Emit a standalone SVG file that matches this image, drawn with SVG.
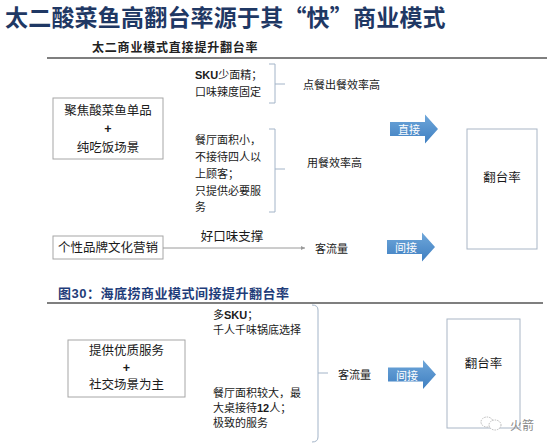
<svg xmlns="http://www.w3.org/2000/svg" xmlns:xlink="http://www.w3.org/1999/xlink" width="554" height="448" viewBox="0 0 554 448">
  <style>
    .cjk { font-family: "Liberation Serif", "Noto Sans CJK SC", serif; fill: #1a1a1a; }
    .title { font-family: "Noto Sans CJK SC", sans-serif; font-weight: bold; fill: #1f3864; font-size: 23px; letter-spacing: 0.2px; }
    .sub { font-family: "Noto Sans CJK SC", sans-serif; font-weight: bold; fill: #222; font-size: 12px; letter-spacing: 0.8px; }
    .fig { font-family: "Liberation Sans", "Noto Sans CJK SC", sans-serif; font-weight: bold; fill: #1f3d7a; font-size: 13px; letter-spacing: 0.5px; }
    .box { fill: #ffffff; stroke: #a6a6a6; stroke-width: 1; }
    .tall { fill: #ffffff; stroke: #a9b6c6; stroke-width: 1; }
    .t12 { font-size: 12.5px; }
    .t11 { font-size: 11px; }
    .lat { font-family: "Liberation Sans", sans-serif; font-weight: bold; }
    .brace { fill: none; stroke: #a3b4c8; stroke-width: 1; }
    .rule { stroke: #555; stroke-width: 1.5; }
    .conn { stroke: #9a9a9a; stroke-width: 1; fill: none; }
    .atext { font-family: "Noto Sans CJK SC", sans-serif; fill: #ffffff; font-size: 11px; }
    .wm { font-family: "Noto Sans CJK SC", sans-serif; fill: #8a8a8a; font-size: 12px; }
  </style>
  <defs>
    <linearGradient id="blueGrad" x1="0" y1="0" x2="0" y2="1">
      <stop offset="0" stop-color="#6fa7da"/>
      <stop offset="1" stop-color="#3f7fc1"/>
    </linearGradient>
    <path id="blockArrow" d="M0,-7 H35 V-14.5 L48,0 L35,14.5 V7 H0 Z" fill="url(#blueGrad)"/>
    <marker id="smallHead" markerWidth="5" markerHeight="5" refX="4" refY="2.5" orient="auto" markerUnits="userSpaceOnUse">
      <path d="M0,0.5 L4,2.5 L0,4.5 Z" fill="#9a9a9a"/>
    </marker>
  </defs>
  <rect width="554" height="448" fill="#ffffff"/>

  <!-- headings -->
  <text class="title" x="5" y="16" dominant-baseline="central">太二酸菜鱼高翻台率源于其“快”商业模式</text>
  <text class="sub" x="92" y="46" dominant-baseline="central">太二商业模式直接提升翻台率</text>
  <line class="rule" x1="47" y1="58" x2="547" y2="58"/>
  <text class="fig" x="58" y="293" dominant-baseline="central">图30：海底捞商业模式间接提升翻台率</text>
  <line class="rule" x1="47" y1="303" x2="543" y2="303"/>

  <!-- top section nodes -->
  <g id="node-taier-core">
    <rect class="box" x="53" y="98" width="110" height="61"/>
    <text class="cjk t12" x="108" y="111" text-anchor="middle" dominant-baseline="central">聚焦酸菜鱼单品</text>
    <text class="cjk t12 lat" x="108" y="129" text-anchor="middle" dominant-baseline="central">+</text>
    <text class="cjk t12" x="108" y="148" text-anchor="middle" dominant-baseline="central">纯吃饭场景</text>
  </g>
  <g id="node-sku">
    <text class="cjk t11" x="195" y="75" dominant-baseline="central"><tspan class="lat">SKU</tspan>少面精；</text>
    <text class="cjk t11" x="195" y="92" dominant-baseline="central">口味辣度固定</text>
  </g>
  <g id="node-space">
    <text class="cjk t11" x="195" y="140" dominant-baseline="central">餐厅面积小，</text>
    <text class="cjk t11" x="195" y="157" dominant-baseline="central">不接待四人以</text>
    <text class="cjk t11" x="195" y="174" dominant-baseline="central">上顾客；</text>
    <text class="cjk t11" x="195" y="191" dominant-baseline="central">只提供必要服</text>
    <text class="cjk t11" x="195" y="207" dominant-baseline="central">务</text>
  </g>
  <g id="node-order-eff">
    <text class="cjk t11" x="303" y="85" dominant-baseline="central">点餐出餐效率高</text>
  </g>
  <g id="node-dine-eff">
    <text class="cjk t11" x="307" y="163" dominant-baseline="central">用餐效率高</text>
  </g>
  <g id="node-brand">
    <rect class="box" x="53" y="236" width="110" height="23"/>
    <text class="cjk t12" x="108" y="247.5" text-anchor="middle" dominant-baseline="central">个性品牌文化营销</text>
  </g>
  <g id="node-traffic-top">
    <text class="cjk t11" x="315" y="249" dominant-baseline="central">客流量</text>
  </g>
  <g id="node-turnover-top">
    <rect class="tall" x="467" y="129" width="70" height="120"/>
    <text class="cjk t12" x="502" y="178" text-anchor="middle" dominant-baseline="central">翻台率</text>
  </g>

  <!-- bottom section nodes -->
  <g id="node-hdl-core">
    <rect class="box" x="68" y="340" width="117" height="57"/>
    <text class="cjk t12" x="126.5" y="351" text-anchor="middle" dominant-baseline="central">提供优质服务</text>
    <text class="cjk t12 lat" x="126.5" y="368" text-anchor="middle" dominant-baseline="central">+</text>
    <text class="cjk t12" x="126.5" y="385" text-anchor="middle" dominant-baseline="central">社交场景为主</text>
  </g>
  <g id="node-multi-sku">
    <text class="cjk t11" x="213" y="315" dominant-baseline="central">多<tspan class="lat">SKU</tspan>；</text>
    <text class="cjk t11" x="213" y="330" dominant-baseline="central">千人千味锅底选择</text>
  </g>
  <g id="node-big-space">
    <text class="cjk t11" x="213" y="393" dominant-baseline="central">餐厅面积较大，最</text>
    <text class="cjk t11" x="213" y="408" dominant-baseline="central">大桌接待<tspan class="lat">12</tspan>人；</text>
    <text class="cjk t11" x="213" y="423" dominant-baseline="central">极致的服务</text>
  </g>
  <g id="node-traffic-bottom">
    <text class="cjk t11" x="338" y="375" dominant-baseline="central">客流量</text>
  </g>
  <g id="node-turnover-bottom">
    <rect class="tall" x="447" y="319" width="73" height="109"/>
    <text class="cjk t12" x="483.5" y="364" text-anchor="middle" dominant-baseline="central">翻台率</text>
  </g>

  <!-- connectors -->
  <g id="connectors">
    <path class="brace" d="M269,64 H275 V103 H269 M275,84 H285"/>
    <path class="brace" d="M269,129 H275 V212 H269 M275,169 H285"/>
    <path class="brace" d="M312,305 Q318,305 318,310 V437 Q318,442 312,442 M318,373 H328"/>
    <line class="conn" x1="163" y1="248" x2="305" y2="248" marker-end="url(#smallHead)"/>
    <text class="cjk t12" x="232" y="237" text-anchor="middle" dominant-baseline="central">好口味支撑</text>
    <use xlink:href="#blockArrow" x="390" y="129"/>
    <text class="atext" x="409" y="129" text-anchor="middle" dominant-baseline="central">直接</text>
    <use xlink:href="#blockArrow" x="387" y="247"/>
    <text class="atext" x="406" y="247" text-anchor="middle" dominant-baseline="central">间接</text>
    <use xlink:href="#blockArrow" x="388" y="374.5"/>
    <text class="atext" x="407" y="374.5" text-anchor="middle" dominant-baseline="central">间接</text>
  </g>

  <!-- watermark -->
  <g id="watermark">
    <ellipse cx="487" cy="422" rx="6" ry="5" fill="#fff" stroke="#aaa" stroke-width="0.8" stroke-dasharray="1.5 1"/>
    <ellipse cx="495" cy="425" rx="6" ry="5" fill="#fff" stroke="#aaa" stroke-width="0.8" stroke-dasharray="1.5 1"/>
    <text class="wm" x="510" y="424" dominant-baseline="central">火箭</text>
  </g>
</svg>
